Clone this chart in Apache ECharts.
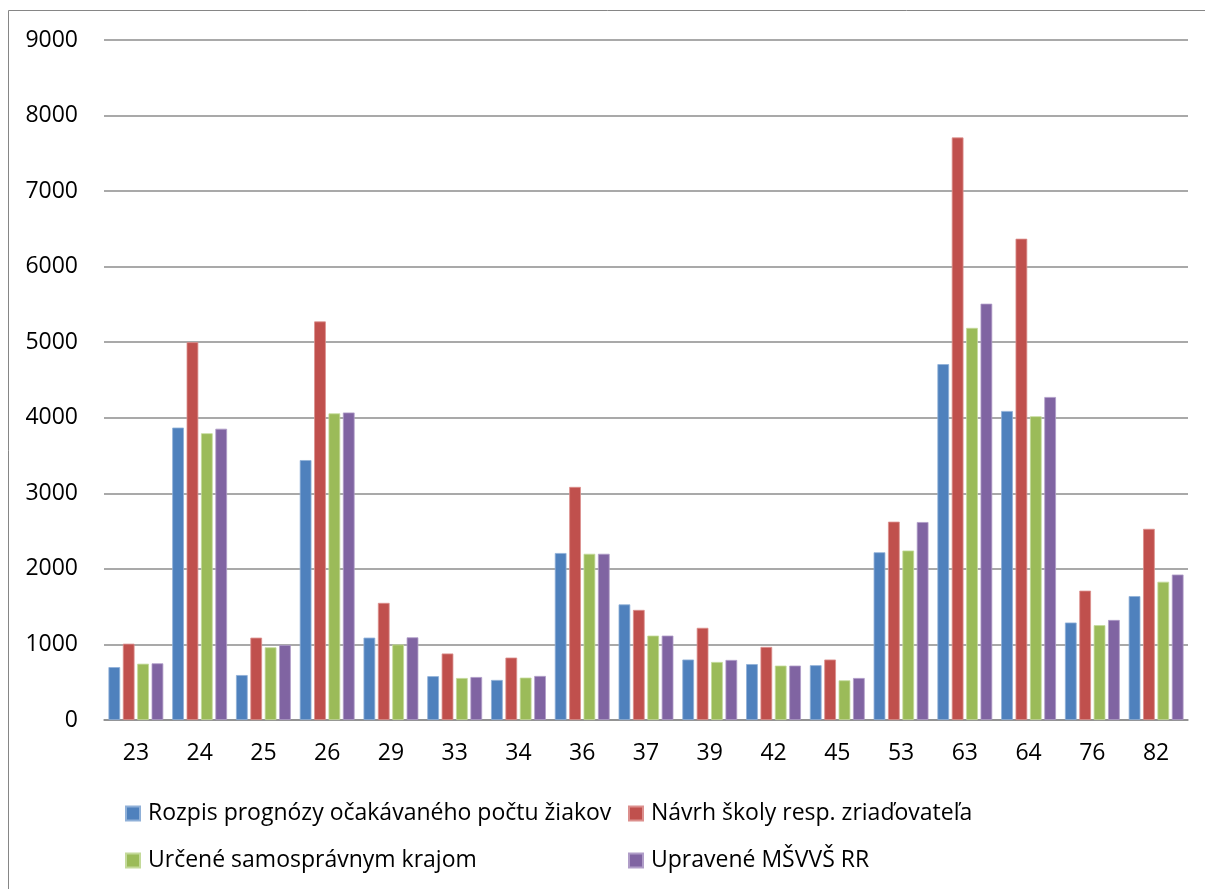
<!DOCTYPE html>
<html>
<head>
<meta charset="utf-8">
<script src="https://cdn.jsdelivr.net/npm/echarts@6/dist/echarts.min.js"></script>
<style>
html,body{margin:0;padding:0;background:#fff;}
#chart{width:1205px;height:889px;}
</style>
</head>
<body>
<div id="chart"></div>
<script>
const categories = ['23','24','25','26','29','33','34','36','37','39','42','45','53','63','64','76','82'];
const seriesNames = ['Rozpis prognózy očakávaného počtu žiakov','Návrh školy resp. zriaďovateľa','Určené samosprávnym krajom','Upravené MŠVVŠ RR'];
const rozpis = [700, 3870, 595, 3440, 1090, 580, 530, 2210, 1530, 800, 740, 725, 2220, 4710, 4090, 1290, 1640];
const navrh = [1010, 5000, 1090, 5275, 1550, 880, 826, 3085, 1457, 1220, 967, 800, 2625, 7710, 6370, 1712, 2530];
const urcene = [745, 3795, 962, 4058, 1000, 556, 561, 2200, 1117, 768, 720, 525, 2243, 5190, 4020, 1255, 1830];
const upravene = [750, 3855, 993, 4070, 1094, 569, 583, 2200, 1117, 795, 720, 556, 2620, 5510, 4275, 1324, 1925];
const yTicks = [0,1000,2000,3000,4000,5000,6000,7000,8000,9000];
const colors = ['#4F81BD','#C0504D','#9BBB59','#8064A2'];
const borderColors = ['#8fb0d8','#dc8f8d','#c4da9a','#b09dc8'];

const font = '"Open Sans", "Liberation Sans", sans-serif';
const fs = 23;
const values = [rozpis, navrh, urcene, upravene];

const chart = echarts.init(document.getElementById('chart'), null, {renderer:'canvas'});

function legendAt(name, left, top){
  return {
    data:[name], left:left, top:top, orient:'horizontal', padding:0,
    icon:'rect', itemWidth:14, itemHeight:14, itemGap:0,
    textStyle:{fontFamily:font, fontSize:fs, color:'#000', padding:[0,0,0,3]},
    selectedMode:false
  };
}

chart.setOption({
  backgroundColor:'#fff',
  animation:false,
  color:colors,
  graphic:[{
    type:'rect', shape:{x:8.5,y:10.5,width:1300,height:1000},
    style:{fill:null, stroke:'#868686', lineWidth:1}, silent:true
  }],
  grid:{left:104, right:17, top:40, bottom:169, containLabel:false},
  legend:[
    legendAt(seriesNames[0], 125, 802),
    legendAt(seriesNames[1], 628, 802),
    legendAt(seriesNames[2], 125, 849),
    legendAt(seriesNames[3], 628, 849)
  ],
  xAxis:{
    type:'category', data:categories,
    axisLine:{show:true, lineStyle:{color:'#8c8c8c', width:1.5}},
    axisTick:{show:false},
    axisLabel:{fontFamily:font, fontSize:fs, color:'#000', margin:22},
    splitLine:{show:false}
  },
  yAxis:{
    type:'value', min:yTicks[0], max:yTicks[yTicks.length-1], interval:yTicks[1]-yTicks[0],
    axisLine:{show:false}, axisTick:{show:false},
    axisLabel:{fontFamily:font, fontSize:fs, color:'#000', margin:26, formatter:v=>String(v)},
    splitLine:{show:true, lineStyle:{color:'#8c8c8c', width:1.5}}
  },
  series: values.map((v,i)=>({
    name:seriesNames[i], type:'bar', data:v,
    barGap:'23%', barCategoryGap:'14%',
    itemStyle:{color:colors[i], borderColor:borderColors[i], borderWidth:0.8}
  }))
});
</script>
</body>
</html>
